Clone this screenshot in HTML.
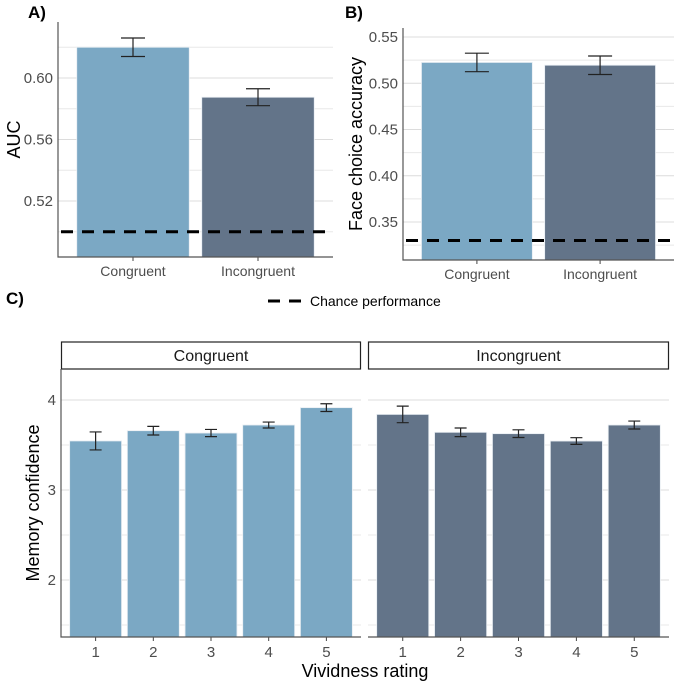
<!DOCTYPE html>
<html><head><meta charset="utf-8"><style>
body{margin:0;background:#fff;}
svg{display:block;font-family:"Liberation Sans",Arial,sans-serif;}
</style></head><body>
<svg id="c" width="685" height="686" viewBox="0 0 685 686"></svg>
<script>
// Panel A data
const aCats = ["Congruent","Incongruent"];
const aVals = [0.620, 0.5875];
const aErr = [0.006, 0.0055];
const aTicks = [0.52,0.56,0.60];
const aChance = 0.50;
// Panel B data
const bCats = ["Congruent","Incongruent"];
const bVals = [0.5225, 0.5195];
const bErr = [0.010, 0.010];
const bTicks = [0.35,0.40,0.45,0.50,0.55];
const bChance = 0.33;
// Panel C data
const cRatings = ["1","2","3","4","5"];
const cCongVals = [3.545, 3.659, 3.633, 3.722, 3.915];
const cCongErr = [0.10, 0.048, 0.040, 0.033, 0.043];
const cIncVals = [3.84, 3.641, 3.626, 3.544, 3.722];
const cIncErr = [0.092, 0.048, 0.043, 0.037, 0.044];
const cTicks = [2,3,4];

const NS="http://www.w3.org/2000/svg";
const svg=document.getElementById('c');
function el(tag,attrs,parent,text){const e=document.createElementNS(NS,tag);for(const k in attrs)e.setAttribute(k,attrs[k]);if(text!==undefined)e.textContent=text;(parent||svg).appendChild(e);return e;}
const LIGHT="#7ba8c4", DARK="#637489";

function barPanel(o){
  const g=el('g',{});
  
  
  const y=v=>o.y0+(v-o.v0)*(o.y1-o.y0)/(o.v1-o.v0);
  for(let i=0;i<o.ticks.length;i++){
    const t=o.ticks[i];
    const gl=el('line',{x1:o.left,x2:o.right,y1:y(t),y2:y(t),stroke:'#dcdcdc','stroke-width':1},g);
    
    
    const m=t+o.step/2;
    if(y(m)>o.top){const ml=el('line',{x1:o.left,x2:o.right,y1:y(m),y2:y(m),stroke:'#e8e8e8','stroke-width':1},g);
      }
    const tl=el('text',{x:o.left-5,y:y(t)+5,'text-anchor':'end','font-size':15,fill:'#4d4d4d'},g,t.toFixed(o.dec));
    
    
  }
  const m0=o.ticks[0]-o.step/2;
  if(y(m0)<o.bottom){const ml=el('line',{x1:o.left,x2:o.right,y1:y(m0),y2:y(m0),stroke:'#e8e8e8'},g);
    }
  const n=o.cats.length;
  const pitch=(o.right-o.left)/(n+0.2);
  for(let i=0;i<n;i++){
    const cx=o.left+pitch*(0.6+i);
    const w=pitch*0.9;
    const b=el('rect',{x:cx-w/2,y:y(o.vals[i]),width:w,height:o.bottom-y(o.vals[i]),fill:o.colors[i],stroke:'#e9eef3','stroke-width':0.8},g);
    
    
    const e1=y(o.vals[i]+o.err[i]), e2=y(o.vals[i]-o.err[i]), hw=o.capw;
    const eb=el('path',{d:`M${cx-hw},${e1}H${cx+hw}M${cx},${e1}V${e2}M${cx-hw},${e2}H${cx+hw}`,stroke:'#222',fill:'none','stroke-width':1.2},g);
    
    
    const tk=el('line',{x1:cx,x2:cx,y1:o.bottom,y2:o.bottom+4,stroke:'#444'},g);
    
    const xl=el('text',{x:cx,y:o.bottom+19,'text-anchor':'middle','font-size':14,fill:'#4d4d4d'},g,o.cats[i]);
    
    
  }
  const ch=el('line',{x1:o.left+3,x2:o.right-3,y1:y(o.chance),y2:y(o.chance),stroke:'#000','stroke-width':3,'stroke-dasharray':'12,9'},g);
  
  
  const ax=el('path',{d:`M${o.left},${o.top}V${o.bottom}H${o.right}`,stroke:'#555',fill:'none','stroke-width':1.2},g);
  
  
  const yt=el('text',{transform:`translate(${o.ytx},${(o.top+o.bottom)/2}) rotate(-90)`,'text-anchor':'middle','font-size':18,fill:'#000'},g,o.ytitle);
  
  
  const lb=el('text',{x:o.lx,y:18,'font-size':17,'font-weight':'bold',fill:'#000'},g,o.label);
  
  
}
barPanel({name:'panel-a-auc',cats:aCats,vals:aVals,err:aErr,ticks:aTicks,step:0.04,dec:2,chance:aChance,
  left:58,right:333,top:22,bottom:257,v0:0.60,y0:78,v1:0.52,y1:201,colors:[LIGHT,DARK],capw:12,ytx:20,ytitle:'AUC',lx:28,label:'A)'});
barPanel({name:'panel-b-face-accuracy',cats:bCats,vals:bVals,err:bErr,ticks:bTicks,step:0.05,dec:2,chance:bChance,
  left:403,right:674,top:28,bottom:260,v0:0.55,y0:37,v1:0.35,y1:222,colors:[LIGHT,DARK],capw:12,ytx:362,ytitle:'Face choice accuracy',lx:345,label:'B)'});

// legend
const lg=el('g',{});


const ll=el('line',{x1:268,x2:301,y1:301,y2:301,stroke:'#000','stroke-width':3,'stroke-dasharray':'12,9'},lg);

const lt=el('text',{x:310,y:306,'font-size':14,fill:'#000'},lg,'Chance performance');


// Panel C
const cy=v=>400+(4-v)*90;
const cBottom=637, cTop=369;
const cl=el('text',{x:6,y:304,'font-size':17,'font-weight':'bold',fill:'#000'},svg,'C)');

function facet(name,title,left,right,vals,err,color,showY){
  const g=el('g',{});
  
  
  const st=el('rect',{x:left+0.5,y:342,width:right-left-1,height:27,fill:'#fff',stroke:'#222','stroke-width':1.2},g);
  
  const stt=el('text',{x:(left+right)/2,y:361,'text-anchor':'middle','font-size':16,fill:'#1a1a1a'},g,title);
  
  for(const t of cTicks){
    const gl=el('line',{x1:left,x2:right,y1:cy(t),y2:cy(t),stroke:'#dcdcdc'},g);
    
    const ml=el('line',{x1:left,x2:right,y1:cy(t-0.5),y2:cy(t-0.5),stroke:'#e8e8e8'},g);
    
    if(showY){
      const tl=el('text',{x:left-5,y:cy(t)+5,'text-anchor':'end','font-size':15,fill:'#4d4d4d'},g,String(t));
      
    }
  }
  const n=cRatings.length, pitch=(right-left)/(n+0.2);
  for(let i=0;i<n;i++){
    const cx=left+pitch*(0.6+i), w=pitch*0.9;
    const b=el('rect',{x:cx-w/2,y:cy(vals[i]),width:w,height:cBottom-cy(vals[i]),fill:color,stroke:'#e9eef3','stroke-width':0.8},g);
    
    
    const e1=cy(vals[i]+err[i]), e2=cy(vals[i]-err[i]), hw=6;
    const eb=el('path',{d:`M${cx-hw},${e1}H${cx+hw}M${cx},${e1}V${e2}M${cx-hw},${e2}H${cx+hw}`,stroke:'#222',fill:'none','stroke-width':1.2},g);
    
    const tk=el('line',{x1:cx,x2:cx,y1:cBottom,y2:cBottom+4,stroke:'#444'},g);
    
    const xl=el('text',{x:cx,y:cBottom+20,'text-anchor':'middle','font-size':15,fill:'#4d4d4d'},g,cRatings[i]);
    
  }
  const ax=el('path',{d:showY?`M${left},${cTop}V${cBottom}H${right}`:`M${left},${cBottom}H${right}`,stroke:'#555',fill:'none','stroke-width':1.2},g);
  
}
facet('facet-congruent','Congruent',61,361,cCongVals,cCongErr,LIGHT,true);
facet('facet-incongruent','Incongruent',368,669,cIncVals,cIncErr,DARK,false);
const xt=el('text',{x:365,y:677,'text-anchor':'middle','font-size':18,fill:'#000'},svg,'Vividness rating');

const yt=el('text',{transform:'translate(39,503) rotate(-90)','text-anchor':'middle','font-size':18,fill:'#000'},svg,'Memory confidence');

</script>
</body></html>
